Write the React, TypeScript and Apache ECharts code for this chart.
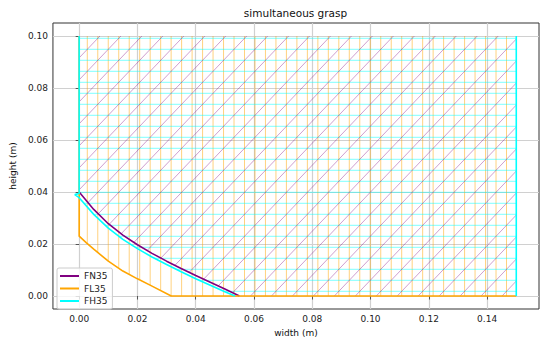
import React, { useEffect, useRef } from "react";
import * as echarts from "echarts";

// ---- data ----
const xTicks = [0, 0.02, 0.04, 0.06, 0.08, 0.1, 0.12, 0.14];
const yTicks = [0, 0.02, 0.04, 0.06, 0.08, 0.1];

const fnX = [0, 0.005, 0.01, 0.015, 0.02, 0.025, 0.03, 0.035, 0.04, 0.045, 0.05, 0.055];
const fnY = [0.04, 0.0333, 0.0278, 0.0234, 0.0197, 0.0164, 0.0134, 0.0106, 0.0079, 0.0053, 0.0027, 0.0];

const flX = [0, 0.0025, 0.005, 0.01, 0.015, 0.02, 0.025, 0.0316];
const flY = [0.023, 0.0204, 0.018, 0.0134, 0.0096, 0.0066, 0.0038, 0.0];

const fhX = [-0.0015, 0, 0.005, 0.01, 0.015, 0.02, 0.025, 0.03, 0.035, 0.04, 0.045, 0.05, 0.0535];
const fhY = [0.039, 0.0378, 0.0314, 0.0261, 0.0218, 0.0182, 0.015, 0.0121, 0.0093, 0.0066, 0.0041, 0.0016, 0.0];

const X_RIGHT = 0.15;
const Y_TOP = 0.1;

const PURPLE = "#800080";
const ORANGE = "#ffa500";
const CYAN = "#00ffff";

// hatch style (pixels)
const HDX = 10.48;
const HDY = 11;
const HX0 = 87.3;
const HY0 = 38.3;

const zip = (xs: number[], ys: number[]) => xs.map((x, i) => [x, ys[i]]);

function renderHatch(_params: any, api: any) {
  const toPx = (x: number, y: number) => api.coord([x, y]) as number[];
  const [xl, yTop] = toPx(0, Y_TOP);
  const [xr, yBot] = toPx(X_RIGHT, 0);

  const boundary = (xs: number[], ys: number[]) => {
    const pts = xs.map((x, i) => toPx(x, ys[i]));
    const last = pts[pts.length - 1];
    if (last[0] < xr) pts.push([xr, yBot]);
    return pts;
  };
  const lowerAt = (pts: number[][], x: number) => {
    if (x <= pts[0][0]) return pts[0][1];
    for (let i = 1; i < pts.length; i++) {
      if (x <= pts[i][0]) {
        const t = (x - pts[i - 1][0]) / (pts[i][0] - pts[i - 1][0] || 1);
        return pts[i - 1][1] + t * (pts[i][1] - pts[i - 1][1]);
      }
    }
    return pts[pts.length - 1][1];
  };
  const xAtY = (pts: number[][], y: number) => {
    if (y <= pts[0][1]) return pts[0][0];
    for (let i = 1; i < pts.length; i++) {
      if (y <= pts[i][1]) {
        const t = (y - pts[i - 1][1]) / (pts[i][1] - pts[i - 1][1] || 1);
        return pts[i - 1][0] + t * (pts[i][0] - pts[i - 1][0]);
      }
    }
    return xr;
  };

  const children: any[] = [];
  const line = (x1: number, y1: number, x2: number, y2: number, color: string) => {
    children.push({
      type: "line",
      shape: { x1, y1, x2, y2 },
      style: { stroke: color, lineWidth: 1 },
      silent: true,
    });
  };

  // FL35: vertical hatch
  const flPts = boundary(flX, flY);
  const k0 = Math.ceil((xl - HX0) / HDX);
  for (let k = k0; ; k++) {
    const x = HX0 + k * HDX;
    if (x > xr) break;
    if (x < xl) continue;
    const yb = lowerAt(flPts, x);
    if (yb > yTop) line(x, yb, x, yTop, "rgba(255,165,0,0.5)");
  }

  // FH35: horizontal hatch
  const fhPts = boundary(fhX, fhY);
  const j0 = Math.ceil((yTop - HY0) / HDY);
  for (let j = j0; ; j++) {
    const y = HY0 + j * HDY;
    if (y > yBot) break;
    if (y < yTop) continue;
    const xs = Math.max(xl, xAtY(fhPts, y));
    if (xs < xr) line(xs, y, xr, y, "rgba(0,255,255,0.5)");
  }

  // FN35: diagonal hatch "/"
  const fnPts = boundary(fnX, fnY);
  const r = HDX / HDY;
  const c0 = HX0 + HDX + r * HY0;
  const step = 2 * HDX;
  const cMin = xl + r * yTop;
  const cMax = xr + r * yBot;
  const n0 = Math.floor((cMin - c0) / step);
  for (let n = n0; ; n++) {
    const c = c0 + n * step;
    if (c > cMax) break;
    const f = (x: number) => (c - x) / r - lowerAt(fnPts, x);
    let a = xl;
    let b = xr;
    let xStart: number;
    if (f(a) <= 0) xStart = a;
    else if (f(b) > 0) continue;
    else {
      for (let it = 0; it < 40; it++) {
        const m = (a + b) / 2;
        if (f(m) > 0) a = m;
        else b = m;
      }
      xStart = b;
    }
    const xEnd = Math.min(xr, c - r * yTop);
    if (xEnd <= xStart) continue;
    line(xStart, (c - xStart) / r, xEnd, (c - xEnd) / r, "rgba(128,0,128,0.38)");
  }

  return { type: "group", children };
}

export default function App() {
  const ref = useRef<HTMLDivElement>(null);
  useEffect(() => {
    if (!ref.current) return;
    const chart = echarts.init(ref.current, undefined, { renderer: "svg" });
    const font = "DejaVu Sans";
    const axisCommon = {
      axisLine: { show: false },
      axisTick: { show: true, length: 3.5, lineStyle: { color: "#333", width: 0.8 } },
      splitLine: { show: true, lineStyle: { color: "#d0d0d0", width: 1.2 } },
      axisLabel: {
        color: "#222",
        fontSize: 9,
        fontFamily: font,
        margin: 5,
        formatter: (v: number) => v.toFixed(2),
      },
    };
    chart.setOption({
      animation: false,
      backgroundColor: "#ffffff",
      textStyle: { fontFamily: font },
      grid: {
        left: 52,
        top: 23,
        width: 487,
        height: 290,
        show: true,
        borderColor: "#333",
        borderWidth: 1,
        backgroundColor: "transparent",
      },
      graphic: [
        {
          type: "text",
          x: 295.5,
          y: 13,
          style: {
            text: "simultaneous grasp",
            textAlign: "center",
            textVerticalAlign: "middle",
            fontSize: 10.5,
            fontFamily: font,
            fill: "#111",
          },
        },
      ],
      xAxis: {
        type: "value",
        min: -0.009,
        max: 0.1578,
        name: "width (m)",
        nameLocation: "middle",
        nameGap: 19,
        nameTextStyle: { fontSize: 9, color: "#111", fontFamily: font },
        ...axisCommon,
        axisTick: { ...axisCommon.axisTick, customValues: xTicks },
        axisLabel: { ...axisCommon.axisLabel, customValues: xTicks },
      },
      yAxis: {
        type: "value",
        min: -0.005,
        max: 0.105,
        name: "height (m)",
        nameLocation: "middle",
        nameGap: 28,
        nameTextStyle: { fontSize: 9, color: "#111", fontFamily: font },
        ...axisCommon,
        axisTick: { ...axisCommon.axisTick, customValues: yTicks },
        axisLabel: { ...axisCommon.axisLabel, customValues: yTicks },
      },
      legend: {
        data: ["FN35", "FL35", "FH35"],
        orient: "vertical",
        left: 57,
        top: 268,
        icon: "rect",
        itemWidth: 19,
        itemHeight: 2,
        itemGap: 2.5,
        padding: [3, 5, 3, 3],
        borderColor: "#cccccc",
        borderWidth: 1,
        borderRadius: 2,
        backgroundColor: "rgba(255,255,255,0.8)",
        textStyle: { fontSize: 9, color: "#222", fontFamily: font, lineHeight: 10 },
      },
      series: [
        {
          type: "custom",
          renderItem: renderHatch,
          data: [[0, 0]],
          silent: true,
          clip: false,
          z: 1,
        },
        {
          name: "FN35",
          type: "line",
          data: zip(fnX, fnY),
          showSymbol: false,
          color: PURPLE,
          lineStyle: { color: PURPLE, width: 1.6 },
          z: 3,
        },
        {
          name: "FL35",
          type: "line",
          data: [[0, Y_TOP], ...zip(flX, flY), [X_RIGHT, 0]],
          showSymbol: false,
          color: ORANGE,
          lineStyle: { color: ORANGE, width: 1.6 },
          z: 3,
        },
        {
          name: "FH35",
          type: "line",
          data: [[0, Y_TOP], [0, 0.0394], ...zip(fhX, fhY)],
          showSymbol: false,
          color: CYAN,
          lineStyle: { color: CYAN, width: 1.6 },
          z: 4,
        },
        {
          name: "FH35",
          type: "line",
          data: [[X_RIGHT, 0], [X_RIGHT, Y_TOP]],
          showSymbol: false,
          color: CYAN,
          lineStyle: { color: CYAN, width: 1.6 },
          z: 4,
        },
      ],
    });
    return () => chart.dispose();
  }, []);
  return (
    <div
      ref={ref}
      style={{ position: "fixed", left: 0, top: 0, width: 540, height: 342 }}
    />
  );
}
